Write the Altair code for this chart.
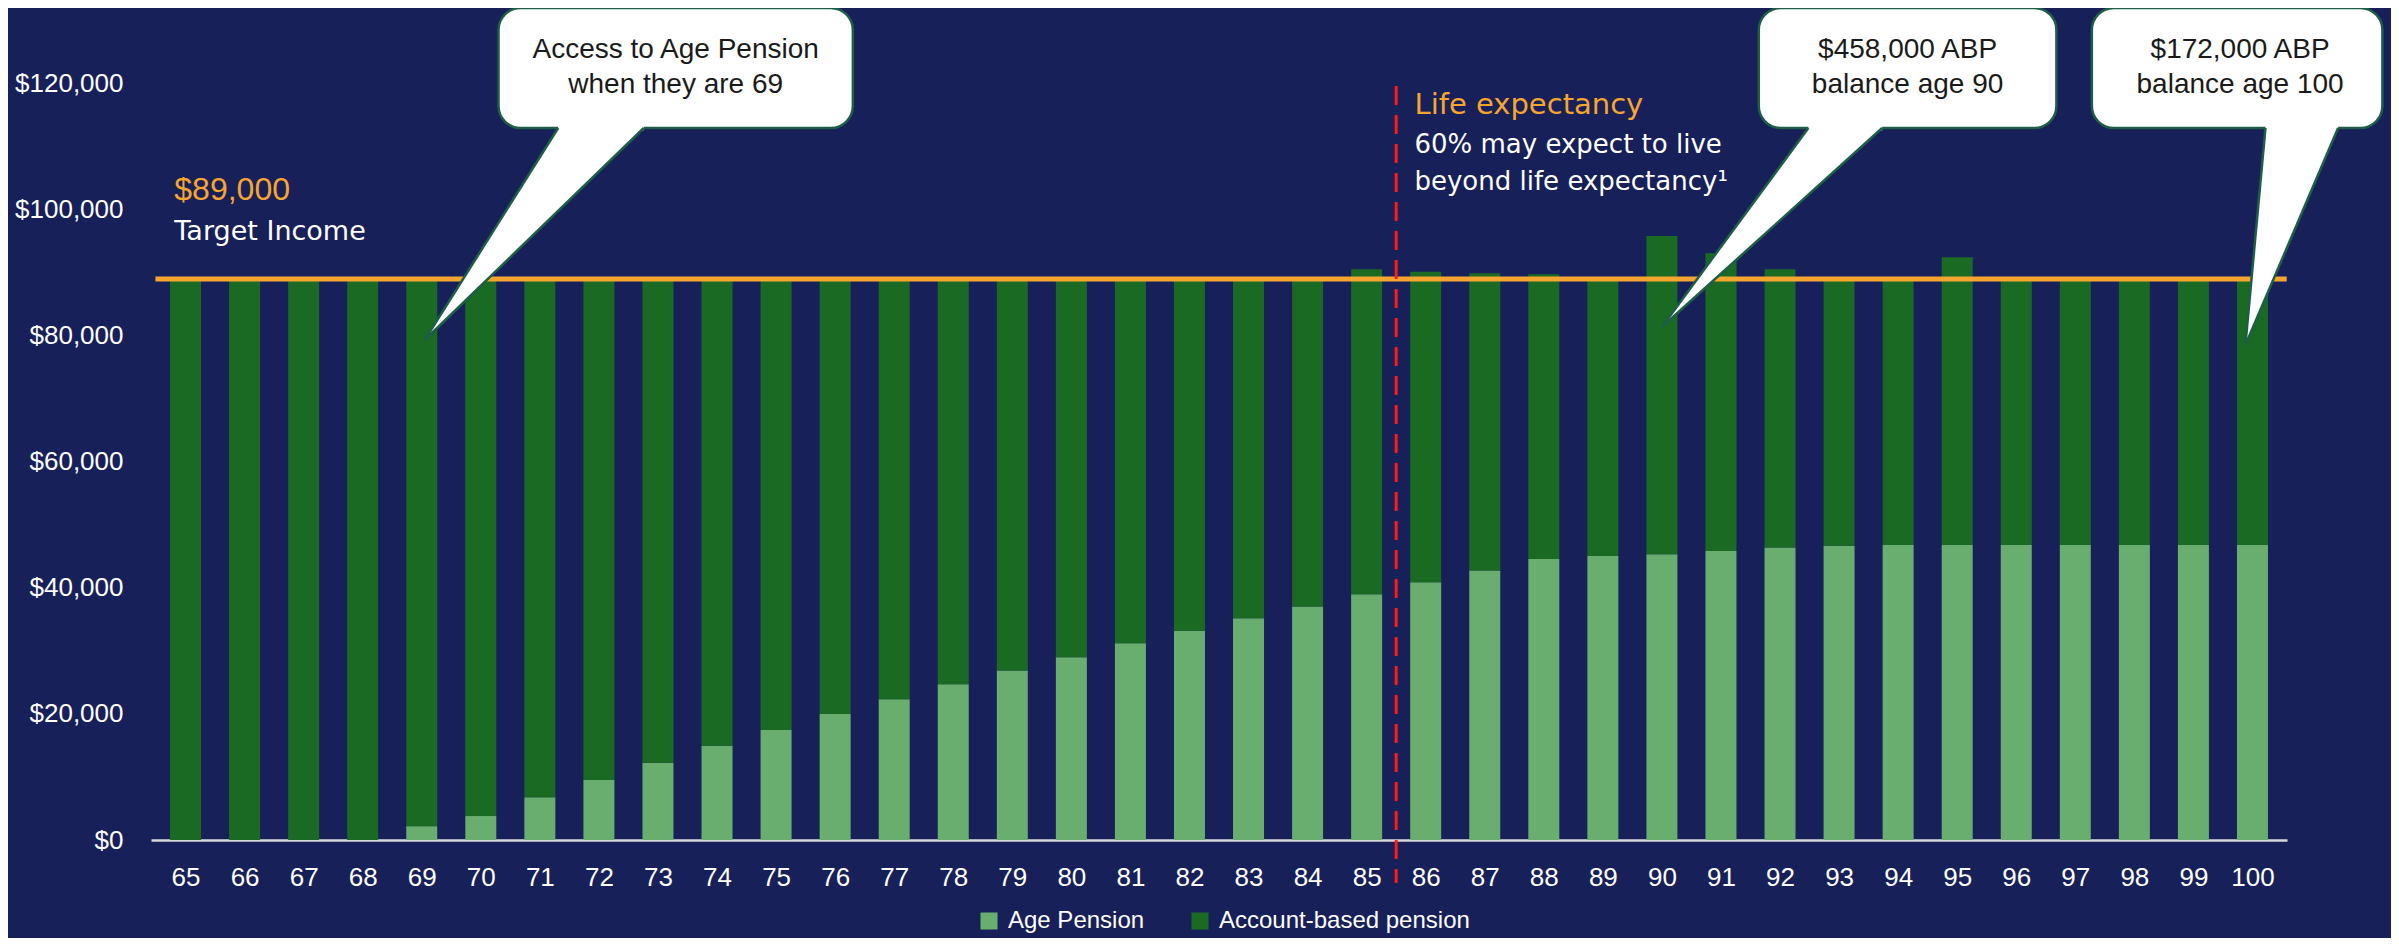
import altair as alt
import pandas as pd

# ---------------- data ----------------
ages = list(range(65, 101))
age_pension = [0, 0, 0, 0, 2200, 3800, 6800, 9500, 12250, 14950, 17450, 20000,
               22350, 24700, 26900, 29000, 31200, 33200, 35200, 37050, 39000,
               40900, 42750, 44600, 45050, 45350, 45850, 46400, 46700, 46800,
               46800, 46800, 46800, 46800, 46800, 46800]
account_based = [88700, 88700, 88700, 88700, 86500, 84900, 81900, 79200, 76450,
                 73750, 71250, 68700, 66350, 64000, 61800, 59700, 57500, 55500,
                 53500, 51650, 51540, 49260, 47160, 45150, 43650, 50470, 47230,
                 44140, 42000, 41900, 45650, 41900, 41900, 41900, 41900, 41900]
series_names = ["Age Pension", "Account-based pension"]
series_colors = ["#69AE6F", "#1B6A24"]

target_income = 89000
target_extent = [64.49, 100.58]
life_expectancy_age = 85.5
life_rule_extent = [119620, -6820]

y_ticks = [0, 20000, 40000, 60000, 80000, 100000, 120000]
x_domain = [64.5, 100.5]
y_domain = [0, 132000]

# annotation text (positions in age / dollar units)
target_texts = ["$89,000", "Target Income"]
target_text_x = 64.81
target_text_y = [103200, 96460]
life_texts = ["Life expectancy", "60% may expect to live", "beyond life expectancy\u00b9"]
life_text_x = 85.81
life_text_y = [116610, 110260, 104390]

callout_line1 = ["Access to Age Pension", "$458,000 ABP", "$172,000 ABP"]
callout_line2 = ["when they are 69", "balance age 90", "balance age 100"]
callout_left = [70.30, 91.64, 97.28]
callout_right = [76.30, 96.68, 102.2]
callout_center = [73.30, 94.16, 99.79]
callout_top = 132000
callout_bottom = 112960
callout_line1_y = 125330
callout_line2_y = 119780
tail_tip_x = [69.05, 90.00, 99.88]
tail_tip_y = [79330, 81390, 78530]
tail_base_left = [71.31, 92.48, 100.22]
tail_base_right = [72.76, 93.73, 101.45]

# ---------------- styling ----------------
BG = "#172058"
ORANGE = "#F6A531"
BOX_STROKE = "#1E5E46"
WHITE = "#FFFFFF"
AXIS_FONT = "Liberation Sans"
WIDE_FONT = "DejaVu Sans"

xscale = alt.Scale(domain=x_domain, nice=False, zero=False)
yscale = alt.Scale(domain=y_domain, nice=False, zero=False)
xaxis = alt.Axis(values=ages, format="d", labelFontSize=26, labelColor=WHITE,
                 labelFont=AXIS_FONT, ticks=False, tickSize=0, grid=False,
                 domainColor="#D9D9D9", domainWidth=2.5, labelPadding=24,
                 labelFlush=False, labelOverlap=False, title=None)
yaxis = alt.Axis(values=y_ticks, format="$,.0f", labelFontSize=26, labelColor=WHITE,
                 labelFont=AXIS_FONT, domain=False, ticks=False, tickSize=0,
                 grid=False, labelPadding=28, title=None)


def X(field):
    return alt.X(field, scale=xscale, axis=xaxis, title=None)


def Y(field, **kw):
    return alt.Y(field, scale=yscale, axis=yaxis, title=None, **kw)


# ---------------- tables ----------------
rows = []
for i, a in enumerate(ages):
    rows.append({"age": a, "series": series_names[0], "value": age_pension[i], "ord": 0})
    rows.append({"age": a, "series": series_names[1], "value": account_based[i], "ord": 1})
bars_df = pd.DataFrame(rows)

bars = alt.Chart(bars_df).mark_bar(size=31).encode(
    x=X("age:Q"),
    y=Y("value:Q", stack="zero"),
    color=alt.Color("series:N", scale=alt.Scale(domain=series_names, range=series_colors),
                    legend=alt.Legend(title=None, orient="none", legendX=826, legendY=901,
                                      direction="horizontal", symbolType="square",
                                      symbolSize=289, symbolStrokeWidth=0, symbolOpacity=1,
                                      labelFontSize=24, labelColor=WHITE, labelFont=AXIS_FONT,
                                      labelOffset=7, columnPadding=43, padding=0,
                                      labelLimit=0)),
    order=alt.Order("ord:Q"),
)

target_df = pd.DataFrame({"x": [target_extent[0]], "x2": [target_extent[1]], "y": [target_income]})
target_rule = alt.Chart(target_df).mark_rule(color=ORANGE, strokeWidth=5).encode(
    x=X("x:Q"), x2="x2:Q", y=Y("y:Q"))

life_df = pd.DataFrame({"x": [life_expectancy_age], "y": [life_rule_extent[0]], "y2": [life_rule_extent[1]]})
life_rule = alt.Chart(life_df).mark_rule(color="#FF1A1A", strokeWidth=3, strokeDash=[19, 10]).encode(
    x=X("x:Q"), y=Y("y:Q"), y2="y2:Q")


def text_layer(texts, xs, ys, font, size, color, align="left"):
    df = pd.DataFrame({"x": xs, "y": ys, "t": texts})
    return alt.Chart(df).mark_text(font=font, fontSize=size, color=color, align=align,
                                   baseline="middle").encode(
        x=X("x:Q"), y=Y("y:Q"), text="t:N")


t_amount = text_layer([target_texts[0]], [target_text_x], [target_text_y[0]], AXIS_FONT, 32, ORANGE)
t_target = text_layer([target_texts[1]], [target_text_x], [target_text_y[1]], WIDE_FONT, 27, WHITE)
t_life = text_layer([life_texts[0]], [life_text_x], [life_text_y[0]], WIDE_FONT, 29, ORANGE)
t_life2 = text_layer(life_texts[1:], [life_text_x] * 2, life_text_y[1:], WIDE_FONT, 26, WHITE)

# callout boxes
box_df = pd.DataFrame({"x": callout_left, "x2": callout_right,
                       "y": [callout_top] * 3, "y2": [callout_bottom] * 3})
boxes = alt.Chart(box_df).mark_rect(fill=WHITE, stroke=BOX_STROKE, strokeWidth=2.5,
                                    cornerRadius=22).encode(
    x=X("x:Q"), x2="x2:Q", y=Y("y:Q"), y2="y2:Q")

# tails (triangle: tip C, base A (left), base B (right))
tail_rows = []
edge_rows = []
cover_rows = []
for k in range(3):
    cx, cy = tail_tip_x[k], tail_tip_y[k]
    ax, bx, by = tail_base_left[k], tail_base_right[k], callout_bottom
    t = (ax - cx) / (bx - cx)
    y_cb = cy + t * (by - cy)
    tail_rows += [{"tail": k, "x": cx, "y": cy, "y2": cy},
                  {"tail": k, "x": ax, "y": y_cb, "y2": by},
                  {"tail": k, "x": bx, "y": by, "y2": by}]
    edge_rows += [{"x": cx, "y": cy, "x2": ax, "y2": by},
                  {"x": cx, "y": cy, "x2": bx, "y2": by}]
    cover_rows.append({"x": ax, "x2": bx, "y": by})
tails = alt.Chart(pd.DataFrame(tail_rows)).mark_area(color=WHITE, opacity=1).encode(
    x=X("x:Q"), y=Y("y:Q"), y2="y2:Q", detail="tail:N")
cover = alt.Chart(pd.DataFrame(cover_rows)).mark_rule(color=WHITE, strokeWidth=5).encode(
    x=X("x:Q"), x2="x2:Q", y=Y("y:Q"))
edges = alt.Chart(pd.DataFrame(edge_rows)).mark_rule(color=BOX_STROKE, strokeWidth=2.5).encode(
    x=X("x:Q"), x2="x2:Q", y=Y("y:Q"), y2="y2:Q")

c_text1 = text_layer(callout_line1, callout_center, [callout_line1_y] * 3, AXIS_FONT, 28, "#1A1A1A", "center")
c_text2 = text_layer(callout_line2, callout_center, [callout_line2_y] * 3, AXIS_FONT, 28, "#1A1A1A", "center")

chart = alt.layer(
    bars, target_rule, life_rule, t_amount, t_target, t_life, t_life2,
    boxes, tails, cover, edges, c_text1, c_text2
).properties(
    width=2136, height=832,
    autosize=alt.AutoSizeParams(type="none"),
    padding={"left": 143, "top": 0, "right": 104, "bottom": 98},
).configure(background=BG).configure_view(stroke=None)

chart.save("out.html", embed_options={"renderer": "svg", "actions": False})
